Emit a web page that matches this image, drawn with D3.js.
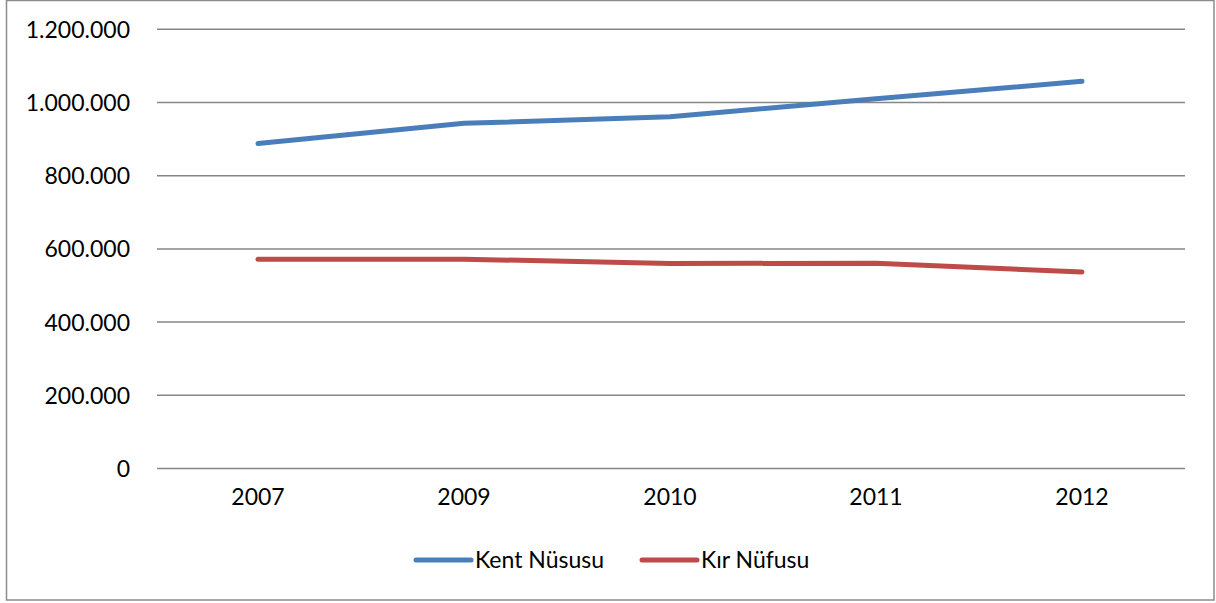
<!DOCTYPE html>
<html>
<head>
<meta charset="utf-8">
<script src="https://cdn.jsdelivr.net/npm/d3@7"></script>
<style>
  body { margin: 0; background: #fff; }
  text { font-family: Lato, "Open Sans", sans-serif; fill: #000; }
</style>
</head>
<body>
<div class="root"></div>
<script>
var years = ["2007", "2009", "2010", "2011", "2012"];
var kentNufusu = [888000, 943000, 961000, 1010000, 1058000];
var kirNufusu = [572000, 572000, 560000, 561000, 537000];
var yTicks = [0, 200000, 400000, 600000, 800000, 1000000, 1200000];
var seriesNames = ["Kent Nüsusu", "Kır Nüfusu"];
var seriesColors = ["#4a7ebb", "#be4b48"];

var width = 1216, height = 603;
var fontSize = "23px";
var svg = d3.select(".root").append("svg")
  .attr("width", width)
  .attr("height", height);

// outer frame
svg.append("rect")
  .attr("x", 6.5).attr("y", 0.5)
  .attr("width", 1207.5).attr("height", 599.5)
  .attr("fill", "none")
  .attr("stroke", "#8c8c8c")
  .attr("stroke-width", 1.5);

var plotLeft = 155, plotRight = 1185, plotTop = 29.3, plotBottom = 468.5;

var x = d3.scaleBand().domain(years).range([plotLeft, plotRight]);
var y = d3.scaleLinear().domain([0, 1200000]).range([plotBottom, plotTop]);

var fmt = function (d) {
  return d3.format(",")(d).replace(/,/g, ".");
};

// gridlines
svg.append("g")
  .selectAll("line")
  .data(yTicks)
  .enter().append("line")
  .attr("x1", plotLeft + 2).attr("x2", plotRight)
  .attr("y1", function (d) { return y(d); })
  .attr("y2", function (d) { return y(d); })
  .attr("stroke", "#868686")
  .attr("stroke-width", 1.5);

// y axis labels
var yAxis = d3.axisLeft(y).tickValues(yTicks).tickFormat(fmt).tickSize(0).tickPadding(0);
var yg = svg.append("g")
  .attr("transform", "translate(130,0)")
  .call(yAxis);
yg.select(".domain").remove();
yg.selectAll("text")
  .style("font-family", "Lato, 'Open Sans', sans-serif")
  .style("font-size", fontSize)
  .attr("dy", "0.35em")
  .attr("fill", "#000");

// x axis labels
var xAxis = d3.axisBottom(x).tickSize(0).tickPadding(0);
var xg = svg.append("g")
  .attr("transform", "translate(0," + (plotBottom + 20) + ")")
  .call(xAxis);
xg.select(".domain").remove();
xg.selectAll("text")
  .style("font-family", "Lato, 'Open Sans', sans-serif")
  .style("font-size", fontSize)
  .attr("dy", "0.71em")
  .attr("fill", "#000");

var line = d3.line()
  .x(function (d, i) { return x(years[i]) + x.bandwidth() / 2; })
  .y(function (d) { return y(d); });

[kentNufusu, kirNufusu].forEach(function (s, i) {
  svg.append("path")
    .datum(s)
    .attr("d", line)
    .attr("fill", "none")
    .attr("stroke", seriesColors[i])
    .attr("stroke-width", 5)
    .attr("stroke-linecap", "round")
    .attr("stroke-linejoin", "round");
});

// legend
var legendX = [416, 642];
var legend = svg.append("g")
  .selectAll("g")
  .data(seriesNames)
  .enter().append("g")
  .attr("transform", function (d, i) { return "translate(" + legendX[i] + ",560)"; });
legend.append("line")
  .attr("x1", 0).attr("x2", 55)
  .attr("y1", 0).attr("y2", 0)
  .attr("stroke", function (d, i) { return seriesColors[i]; })
  .attr("stroke-width", 5)
  .attr("stroke-linecap", "round");
legend.append("text")
  .attr("x", 59)
  .attr("dy", "0.35em")
  .style("font-size", fontSize)
  .text(function (d) { return d; });
</script>
</body>
</html>
